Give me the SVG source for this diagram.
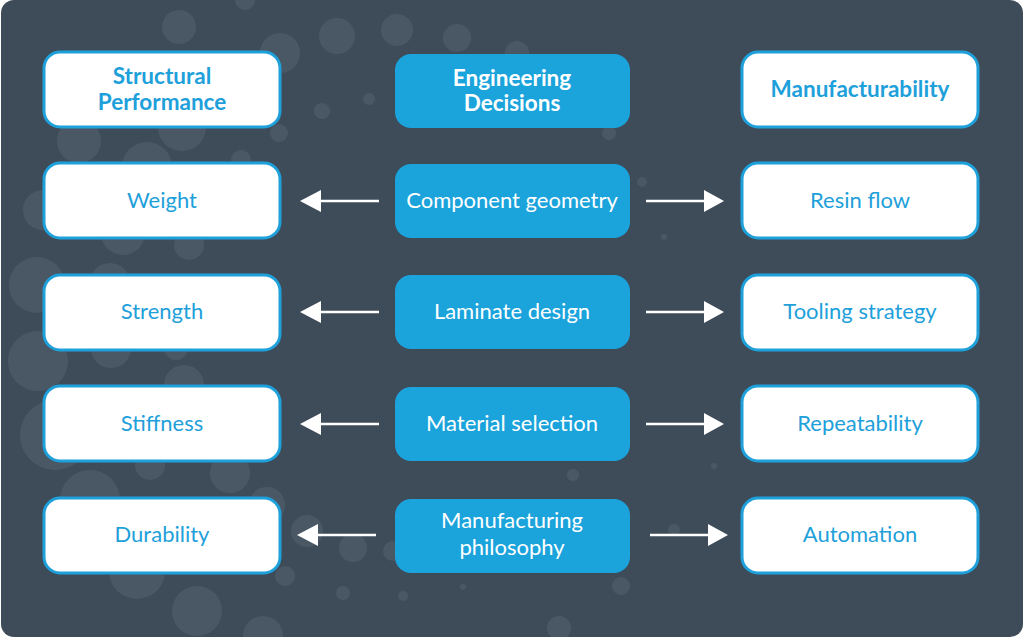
<svg xmlns="http://www.w3.org/2000/svg" width="1024" height="638" viewBox="0 0 1024 638">
<defs>
<style>
.bg{fill:#3e4c5a}
.dot{fill:#ffffff;fill-opacity:0.065}
.side{fill:#ffffff;stroke:#1ea0da;stroke-width:3}
.mid{fill:#1ba3dc}
.t{font-family:Lato,"Liberation Sans",sans-serif;font-size:22px;text-anchor:middle}
.tb{fill:#1ea0da}
.tw{fill:#ffffff}
.h{font-weight:700;font-size:22.5px}
.ln{stroke:#ffffff;stroke-width:2.5;fill:none}
.ah{fill:#ffffff}
</style>
</defs>
<rect x="0" y="0" width="1024" height="638" fill="#ffffff"/>
<rect class="bg" x="1" y="0" width="1022" height="637" rx="13"/>
<g id="background-dots">
<circle class="dot" cx="179" cy="27" r="17"/>
<circle class="dot" cx="280" cy="53" r="20"/>
<circle class="dot" cx="337" cy="36" r="18"/>
<circle class="dot" cx="397" cy="30" r="16"/>
<circle class="dot" cx="457" cy="38" r="14"/>
<circle class="dot" cx="245" cy="0" r="10"/>
<circle class="dot" cx="517" cy="53" r="12"/>
<circle class="dot" cx="79" cy="141" r="22"/>
<circle class="dot" cx="182" cy="127" r="24"/>
<circle class="dot" cx="279" cy="133" r="9"/>
<circle class="dot" cx="322" cy="111" r="8"/>
<circle class="dot" cx="369" cy="99" r="6"/>
<circle class="dot" cx="147" cy="167" r="25"/>
<circle class="dot" cx="241" cy="160" r="10"/>
<circle class="dot" cx="43" cy="210" r="20"/>
<circle class="dot" cx="123" cy="233" r="22"/>
<circle class="dot" cx="189" cy="245" r="15"/>
<circle class="dot" cx="37" cy="285" r="28"/>
<circle class="dot" cx="110" cy="283" r="20"/>
<circle class="dot" cx="38" cy="361" r="30"/>
<circle class="dot" cx="111" cy="348" r="20"/>
<circle class="dot" cx="176" cy="348" r="12"/>
<circle class="dot" cx="184" cy="385" r="20"/>
<circle class="dot" cx="55" cy="435" r="35"/>
<circle class="dot" cx="150" cy="465" r="15"/>
<circle class="dot" cx="230" cy="473" r="20"/>
<circle class="dot" cx="90" cy="500" r="30"/>
<circle class="dot" cx="267" cy="505" r="18"/>
<circle class="dot" cx="307" cy="531" r="16"/>
<circle class="dot" cx="353" cy="548" r="14"/>
<circle class="dot" cx="393" cy="551" r="10"/>
<circle class="dot" cx="137" cy="571" r="28"/>
<circle class="dot" cx="285" cy="576" r="10"/>
<circle class="dot" cx="197" cy="611" r="25"/>
<circle class="dot" cx="343" cy="593" r="7"/>
<circle class="dot" cx="403" cy="596" r="5"/>
<circle class="dot" cx="463" cy="587" r="3"/>
<circle class="dot" cx="263" cy="636" r="20"/>
<circle class="dot" cx="573" cy="475" r="6"/>
<circle class="dot" cx="714" cy="466" r="3"/>
<circle class="dot" cx="674" cy="530" r="6"/>
<circle class="dot" cx="621" cy="586" r="9"/>
<circle class="dot" cx="559" cy="628" r="12"/>
<circle class="dot" cx="609" cy="133" r="7"/>
<circle class="dot" cx="642" cy="182" r="5"/>
<circle class="dot" cx="664" cy="237" r="3"/>
</g>
<g id="connectors">
<line class="ln" x1="379" y1="201" x2="318" y2="201"/><polygon class="ah" points="300,201 321,190 321,212"/>
<line class="ln" x1="379" y1="312" x2="318" y2="312"/><polygon class="ah" points="300,312 321,301 321,323"/>
<line class="ln" x1="379" y1="424" x2="318" y2="424"/><polygon class="ah" points="300,424 321,413 321,435"/>
<line class="ln" x1="376" y1="535" x2="315" y2="535"/><polygon class="ah" points="297,535 318,524 318,546"/>
<line class="ln" x1="646" y1="201" x2="707" y2="201"/><polygon class="ah" points="724,201 704,190 704,212"/>
<line class="ln" x1="646" y1="312" x2="707" y2="312"/><polygon class="ah" points="724,312 704,301 704,323"/>
<line class="ln" x1="646" y1="424" x2="707" y2="424"/><polygon class="ah" points="724,424 704,413 704,435"/>
<line class="ln" x1="650" y1="535" x2="711" y2="535"/><polygon class="ah" points="728,535 708,524 708,546"/>
</g>
<g id="structural-performance"><rect class="side" x="44" y="52" width="236" height="75" rx="16"/><text class="t tb h" x="162" y="84">Structural</text><text class="t tb h" x="162" y="110">Performance</text></g>
<g id="weight"><rect class="side" x="44" y="163" width="236" height="75" rx="16"/><text class="t tb" x="162" y="208">Weight</text></g>
<g id="strength"><rect class="side" x="44" y="275" width="236" height="75" rx="16"/><text class="t tb" x="162" y="319">Strength</text></g>
<g id="stiffness"><rect class="side" x="44" y="386" width="236" height="75" rx="16"/><text class="t tb" x="162" y="431">Stiffness</text></g>
<g id="durability"><rect class="side" x="44" y="498" width="236" height="75" rx="16"/><text class="t tb" x="162" y="542">Durability</text></g>
<g id="engineering-decisions"><rect class="mid" x="395" y="54" width="235" height="74" rx="16"/><text class="t tw h" x="512" y="86">Engineering</text><text class="t tw h" x="512" y="111">Decisions</text></g>
<g id="component-geometry"><rect class="mid" x="395" y="164" width="235" height="74" rx="16"/><text class="t tw" x="512" y="208">Component geometry</text></g>
<g id="laminate-design"><rect class="mid" x="395" y="275" width="235" height="74" rx="16"/><text class="t tw" x="512" y="319">Laminate design</text></g>
<g id="material-selection"><rect class="mid" x="395" y="387" width="235" height="74" rx="16"/><text class="t tw" x="512" y="431">Material selection</text></g>
<g id="manufacturing-philosophy"><rect class="mid" x="395" y="499" width="235" height="74" rx="16"/><text class="t tw" x="512" y="528">Manufacturing</text><text class="t tw" x="512" y="555">philosophy</text></g>
<g id="manufacturability"><rect class="side" x="742" y="52" width="236" height="75" rx="16"/><text class="t tb h" x="860" y="97">Manufacturability</text></g>
<g id="resin-flow"><rect class="side" x="742" y="163" width="236" height="75" rx="16"/><text class="t tb" x="860" y="208">Resin flow</text></g>
<g id="tooling-strategy"><rect class="side" x="742" y="275" width="236" height="75" rx="16"/><text class="t tb" x="860" y="319">Tooling strategy</text></g>
<g id="repeatability"><rect class="side" x="742" y="386" width="236" height="75" rx="16"/><text class="t tb" x="860" y="431">Repeatability</text></g>
<g id="automation"><rect class="side" x="742" y="498" width="236" height="75" rx="16"/><text class="t tb" x="860" y="542">Automation</text></g>
</svg>
